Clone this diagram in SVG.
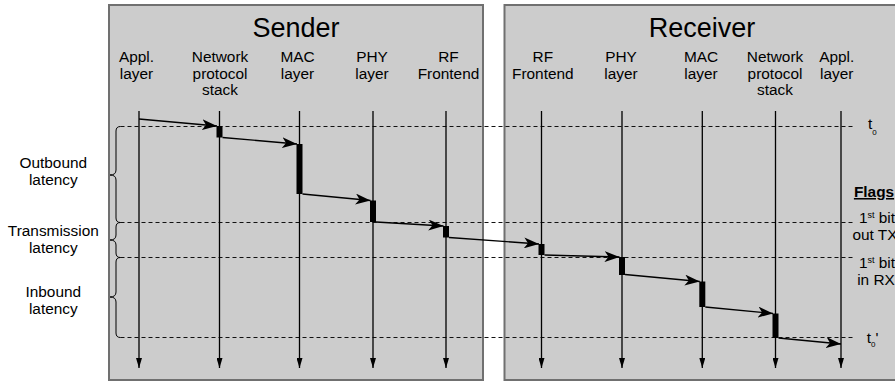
<svg xmlns="http://www.w3.org/2000/svg" width="895" height="382" viewBox="0 0 895 382">
<defs>
<style>
text{font-family:"Liberation Sans",Arial,sans-serif;fill:#000}
.lbl{font-size:15.4px;text-anchor:middle}
.title{font-size:27px;text-anchor:middle}
.box{fill:#cccccc;stroke:#707070;stroke-width:2}
.life{stroke:#000;stroke-width:1.3;fill:none;marker-end:url(#lh)}
.msg{stroke:#000;stroke-width:1.3;fill:none;marker-end:url(#ah)}
.dash{stroke:#111;stroke-width:1;stroke-dasharray:4 3;fill:none}
.brace{stroke:#000;stroke-width:1;fill:none}
.bar{fill:#000}
</style>
<marker id="ah" viewBox="0 0 15 11" refX="15" refY="5.5" markerWidth="15" markerHeight="11" markerUnits="userSpaceOnUse" orient="auto">
<path d="M0,0 L15,5.5 L0,11 L4,5.5 Z" fill="#000"/>
</marker>
<marker id="lh" viewBox="0 0 6 10" refX="3" refY="10" markerWidth="6" markerHeight="10" markerUnits="userSpaceOnUse" orient="0">
<path d="M0,0 L6,0 L3,10 Z" fill="#000"/>
</marker>
</defs>
<g id="sender">
<rect class="box" x="109" y="5" width="374" height="375"/>
<text class="title" x="296" y="37">Sender</text>
<text class="lbl" x="136.5" y="62">Appl.<tspan x="136.5" dy="16.7">layer</tspan></text>
<text class="lbl" x="220" y="62">Network<tspan x="220" dy="16.7">protocol</tspan><tspan x="220" dy="16.7">stack</tspan></text>
<text class="lbl" x="297.5" y="62">MAC<tspan x="297.5" dy="16.7">layer</tspan></text>
<text class="lbl" x="372" y="62">PHY<tspan x="372" dy="16.7">layer</tspan></text>
<text class="lbl" x="448.5" y="62">RF<tspan x="448.5" dy="16.7">Frontend</tspan></text>
</g>
<g id="receiver">
<rect class="box" x="504.5" y="5" width="400" height="375"/>
<text class="title" x="702" y="37">Receiver</text>
<text class="lbl" x="542.8" y="62">RF<tspan x="542.8" dy="16.7">Frontend</tspan></text>
<text class="lbl" x="621" y="62">PHY<tspan x="621" dy="16.7">layer</tspan></text>
<text class="lbl" x="701" y="62">MAC<tspan x="701" dy="16.7">layer</tspan></text>
<text class="lbl" x="775" y="62">Network<tspan x="775" dy="16.7">protocol</tspan><tspan x="775" dy="16.7">stack</tspan></text>
<text class="lbl" x="836.7" y="62">Appl.<tspan x="836.7" dy="16.7">layer</tspan></text>
</g>
<g id="timelines">
<path class="dash" d="M120.5,126.5 H853"/>
<path class="dash" d="M120.5,222.5 H853"/>
<path class="dash" d="M120.5,257.5 H853"/>
<path class="dash" d="M120.5,337.5 H853"/>
</g>
<g id="lifelines">
<line class="life" x1="139" y1="111" x2="139" y2="368"/>
<line class="life" x1="219.5" y1="111" x2="219.5" y2="368"/>
<line class="life" x1="299.5" y1="111" x2="299.5" y2="368"/>
<line class="life" x1="373" y1="111" x2="373" y2="368"/>
<line class="life" x1="446" y1="111" x2="446" y2="368"/>
<line class="life" x1="541.5" y1="111" x2="541.5" y2="368"/>
<line class="life" x1="622" y1="111" x2="622" y2="368"/>
<line class="life" x1="702.3" y1="111" x2="702.3" y2="368"/>
<line class="life" x1="775.5" y1="111" x2="775.5" y2="368"/>
<line class="life" x1="841" y1="111" x2="841" y2="368"/>
</g>
<g id="bars">
<rect class="bar" x="216.5" y="126" width="6" height="11.5"/>
<rect class="bar" x="296.5" y="144" width="6" height="50"/>
<rect class="bar" x="370" y="200.5" width="6" height="21.5"/>
<rect class="bar" x="443" y="226" width="6" height="11.5"/>
<rect class="bar" x="538.5" y="244" width="6" height="11"/>
<rect class="bar" x="619" y="257" width="6" height="18"/>
<rect class="bar" x="699.3" y="281.5" width="6" height="25.5"/>
<rect class="bar" x="772.5" y="313.5" width="6" height="24.5"/>
</g>
<g id="connectors">
<line class="msg" x1="139" y1="119" x2="217" y2="126"/>
<line class="msg" x1="222.5" y1="137.5" x2="297" y2="144"/>
<line class="msg" x1="302.5" y1="194" x2="370.5" y2="200.5"/>
<line class="msg" x1="376" y1="222" x2="443.5" y2="226"/>
<line class="msg" x1="449" y1="237.5" x2="539" y2="244"/>
<line class="msg" x1="544.5" y1="255" x2="619.5" y2="257"/>
<line class="msg" x1="625" y1="274.5" x2="699.8" y2="281.5"/>
<line class="msg" x1="705.3" y1="307" x2="773" y2="313.5"/>
<line class="msg" x1="778.5" y1="338" x2="841" y2="344"/>
</g>
<g id="braces">
<path class="brace" d="M120.5,126.5 Q116,126.5 116,131 L116,170 Q116,175 110,175 Q116,175 116,180 L116,218 Q116,222.5 120.5,222.5"/>
<path class="brace" d="M120.5,222.5 Q116,222.5 116,227 L116,235 Q116,240 110,240 Q116,240 116,245 L116,253 Q116,257.5 120.5,257.5"/>
<path class="brace" d="M120.5,257.5 Q116,257.5 116,262 L116,292 Q116,297 110,297 Q116,297 116,302 L116,333 Q116,337.5 120.5,337.5"/>
</g>
<g id="latency-labels">
<text class="lbl" x="53.3" y="168">Outbound<tspan x="53.3" dy="17.4">latency</tspan></text>
<text class="lbl" x="53.3" y="236">Transmission<tspan x="53.3" dy="17.4">latency</tspan></text>
<text class="lbl" x="53.3" y="296.5">Inbound<tspan x="53.3" dy="17.4">latency</tspan></text>
</g>
<g id="flag-labels">
<text x="868" y="129" style="font-size:15.4px">t<tspan style="font-size:8px" dy="6">0</tspan></text>
<text x="866.7" y="343" style="font-size:15.4px">t<tspan style="font-size:8px" dy="4">0</tspan><tspan dy="-4">'</tspan></text>
<text x="874" y="197" style="font-size:15.4px;font-weight:bold;text-anchor:middle;text-decoration:underline">Flags</text>
<text class="lbl" x="877" y="223.3">1<tspan style="font-size:9px" dy="-5.5">st</tspan><tspan dy="5.5"> bit</tspan></text>
<text class="lbl" x="875" y="240">out TX</text>
<text class="lbl" x="877" y="268">1<tspan style="font-size:9px" dy="-5.5">st</tspan><tspan dy="5.5"> bit</tspan></text>
<text class="lbl" x="876" y="285">in RX</text>
</g>
</svg>
